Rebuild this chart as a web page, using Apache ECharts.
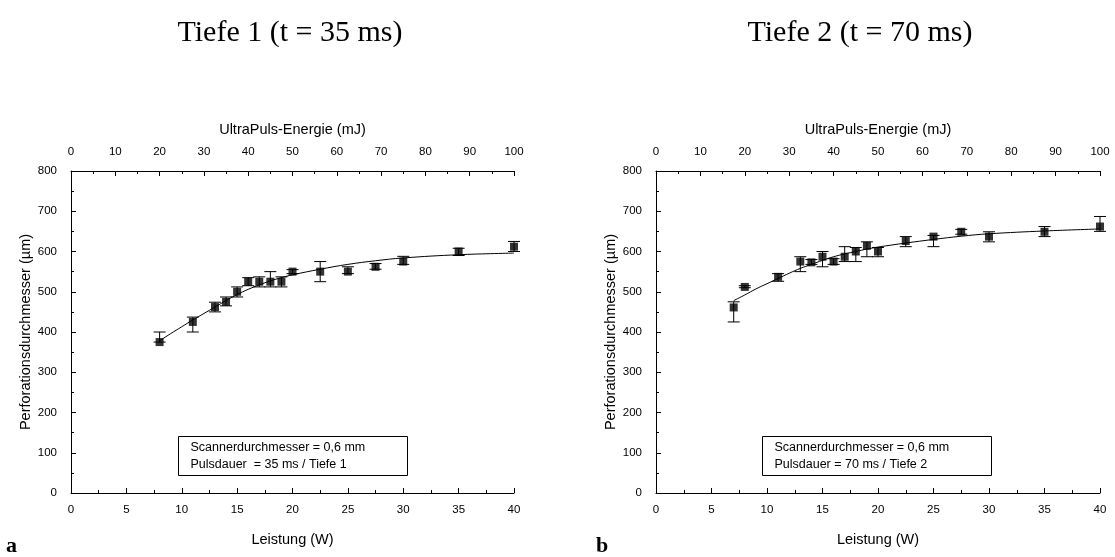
<!DOCTYPE html>
<html>
<head>
<meta charset="utf-8">
<script src="https://cdn.jsdelivr.net/npm/echarts@6/dist/echarts.min.js"></script>
<style>
  html, body { margin: 0; padding: 0; background: #fff; }
  #chart { width: 1115px; height: 557px; }
</style>
</head>
<body>
<div id="chart"></div>
<script>
// Leistung (W) and measured diameters (µm), panel a (35 ms)
const powerA = [8, 11, 13, 14, 15, 16, 17, 18, 19, 20, 22.5, 25, 27.5, 30, 35, 40];
const diamA = [375, 425, 462, 475, 500, 525, 525, 525, 525, 550, 550, 550, 562, 575, 600, 612];
const errLowA = [375, 400, 450, 465, 487, 515, 512, 512, 512, 545, 525, 545, 556, 568, 590, 600];
const errHighA = [400, 437, 474, 487, 512, 535, 537, 550, 537, 555, 575, 562, 570, 588, 608, 625];
const fitXA = [8, 9, 10, 11, 12, 13, 14, 15, 16, 17, 18, 19, 20, 22.5, 25, 27.5, 30, 35, 40];
const fitYA = [378, 396, 413, 430, 446, 462, 478, 493, 506, 517, 527, 535, 542, 556, 568, 577, 584, 592, 596];

// panel b (70 ms)
const powerB = [7, 8, 11, 13, 14, 15, 16, 17, 18, 19, 20, 22.5, 25, 27.5, 30, 35, 40];
const diamB = [461, 512, 537, 575, 573, 587, 575, 587, 600, 614, 600, 626, 637, 649, 637, 649, 662];
const errLowB = [425, 510, 526, 550, 568, 562, 568, 575, 575, 587, 587, 612, 612, 643, 624, 637, 650];
const errHighB = [475, 515, 545, 587, 580, 600, 582, 612, 610, 624, 610, 637, 640, 655, 649, 662, 687];
const fitXB = [7, 8, 9, 10, 11, 12, 13, 14, 15, 16, 17, 18, 19, 20, 22.5, 25, 27.5, 30, 35, 40];
const fitYB = [478, 492, 507, 520, 533, 546, 558, 568, 578, 587, 594, 600, 606, 611, 621, 630, 638, 644, 651, 656];

const titles = ['Tiefe 1 (t = 35 ms)', 'Tiefe 2 (t = 70 ms)'];
const boxLines = [
  ['Scannerdurchmesser = 0,6 mm', 'Pulsdauer  = 35 ms / Tiefe 1'],
  ['Scannerdurchmesser = 0,6 mm', 'Pulsdauer = 70 ms / Tiefe 2']
];

const FONT = '"Liberation Sans", Arial, sans-serif';
const SERIF = '"Liberation Serif", "Times New Roman", serif';

const grids = [
  { left: 71, right: 601, top: 171, bottom: 64 },
  { left: 656, right: 15, top: 171, bottom: 64 }
];

function axisCommon(extra, labelMargin) {
  return Object.assign({
    axisLine: { show: true, lineStyle: { color: '#000', width: 1 } },
    axisTick: { show: true, inside: true, length: 5, lineStyle: { color: '#000' } },
    minorTick: { show: true, splitNumber: 2, length: 3, lineStyle: { color: '#000' } },
    splitLine: { show: false },
    axisLabel: { color: '#000', fontFamily: FONT, fontSize: 11.5, margin: labelMargin },
    nameTextStyle: { color: '#000', fontFamily: FONT, fontSize: 14.5 }
  }, extra);
}

const xAxes = [];
const yAxes = [];
[0, 1].forEach(i => {
  xAxes.push(axisCommon({
    type: 'value', gridIndex: i, min: 0, max: 40, interval: 5, position: 'bottom',
    name: 'Leistung (W)', nameLocation: 'middle', nameGap: 39
  }, 11));
  xAxes.push(axisCommon({
    type: 'value', gridIndex: i, min: 0, max: 100, interval: 10, position: 'top',
    name: 'UltraPuls-Energie (mJ)', nameLocation: 'middle', nameGap: 34
  }, 13));
  yAxes.push(axisCommon({
    type: 'value', gridIndex: i, min: 0, max: 800, interval: 100,
    name: 'Perforationsdurchmesser (µm)', nameLocation: 'middle', nameGap: 12
  }, 14));
});

function errorSeries(idx, xs, lo, hi) {
  return {
    type: 'custom', xAxisIndex: idx * 2, yAxisIndex: idx, z: 3,
    data: xs.map((x, k) => [x, lo[k], hi[k]]),
    renderItem: (params, api) => {
      const p1 = api.coord([api.value(0), api.value(1)]);
      const p2 = api.coord([api.value(0), api.value(2)]);
      const hw = 6;
      const style = { stroke: '#000', lineWidth: 1 };
      return {
        type: 'group',
        children: [
          { type: 'line', shape: { x1: p1[0], y1: p1[1], x2: p2[0], y2: p2[1] }, style },
          { type: 'line', shape: { x1: p1[0] - hw, y1: p1[1], x2: p1[0] + hw, y2: p1[1] }, style },
          { type: 'line', shape: { x1: p2[0] - hw, y1: p2[1], x2: p2[0] + hw, y2: p2[1] }, style }
        ]
      };
    }
  };
}

function pointSeries(idx, xs, ys) {
  return {
    type: 'scatter', xAxisIndex: idx * 2, yAxisIndex: idx, z: 4,
    symbol: 'rect', symbolSize: 8, itemStyle: { color: '#000' },
    data: xs.map((x, k) => [x, ys[k]])
  };
}

function fitSeries(idx, xs, ys) {
  return {
    type: 'line', xAxisIndex: idx * 2, yAxisIndex: idx, z: 2,
    smooth: 0.4, showSymbol: false,
    lineStyle: { color: '#000', width: 1 },
    data: xs.map((x, k) => [x, ys[k]])
  };
}

function infoBox(left, top, lines) {
  return {
    type: 'group', left: left, top: top,
    children: [
      { type: 'rect', shape: { x: 0, y: 0, width: 229, height: 39 },
        style: { fill: '#fff', stroke: '#000', lineWidth: 1 } },
      { type: 'text', x: 12, y: 3,
        style: { text: lines.join('\n'), font: '12.5px ' + FONT, fill: '#000', lineHeight: 17 } }
    ]
  };
}

const option = {
  animation: false,
  backgroundColor: '#fff',
  title: [
    { text: titles[0], left: 285, top: 13, textAlign: 'center',
      textStyle: { fontFamily: SERIF, fontSize: 30, fontWeight: 'normal', color: '#000' } },
    { text: titles[1], left: 855, top: 13, textAlign: 'center',
      textStyle: { fontFamily: SERIF, fontSize: 30, fontWeight: 'normal', color: '#000' } }
  ],
  grid: grids,
  xAxis: xAxes,
  yAxis: yAxes,
  graphic: [
    infoBox(178, 436, boxLines[0]),
    infoBox(762, 436, boxLines[1]),
    { type: 'text', left: 6, top: 535,
      style: { text: 'a', font: 'bold 22px ' + SERIF, fill: '#000' } },
    { type: 'text', left: 596, top: 535,
      style: { text: 'b', font: 'bold 22px ' + SERIF, fill: '#000' } }
  ],
  series: [
    fitSeries(0, fitXA, fitYA),
    errorSeries(0, powerA, errLowA, errHighA),
    pointSeries(0, powerA, diamA),
    fitSeries(1, fitXB, fitYB),
    errorSeries(1, powerB, errLowB, errHighB),
    pointSeries(1, powerB, diamB)
  ]
};

const chart = echarts.init(document.getElementById('chart'));
chart.setOption(option);
</script>
</body>
</html>
